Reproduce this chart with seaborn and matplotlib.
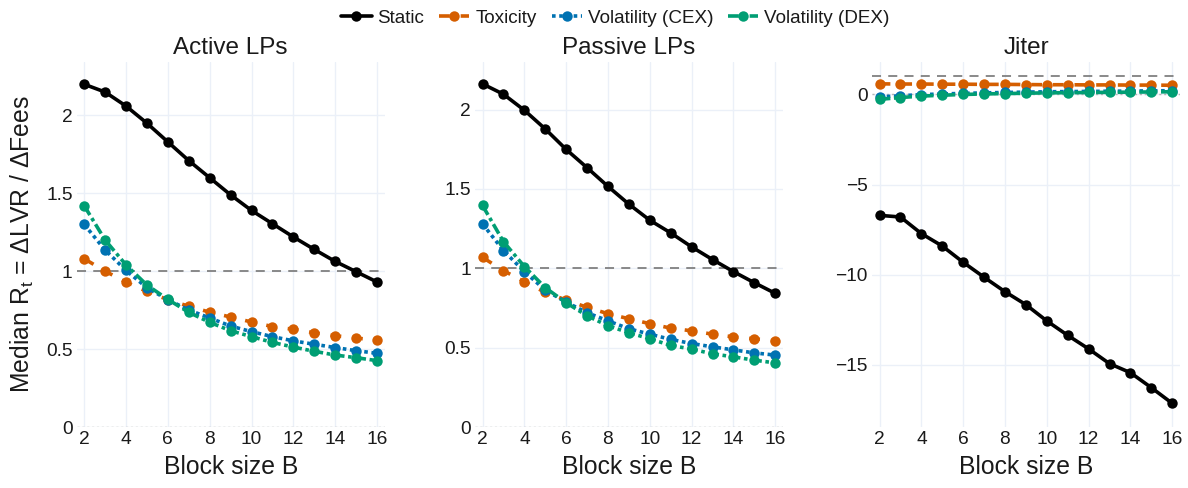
import numpy as np
import pandas as pd
import matplotlib
matplotlib.use("Agg")
import matplotlib.pyplot as plt
from matplotlib.ticker import FuncFormatter
import seaborn as sns

# ---------------- data ----------------
block_sizes = list(range(2, 17))
series_names = ["Static", "Toxicity", "Volatility (CEX)", "Volatility (DEX)"]
panel_titles = ["Active LPs", "Passive LPs", "Jiter"]

active_static = [2.20, 2.15, 2.06, 1.95, 1.83, 1.71, 1.60, 1.49, 1.39, 1.305, 1.22, 1.14, 1.063, 0.997, 0.931]
active_tox = [1.08, 1.00, 0.93, 0.87, 0.817, 0.775, 0.737, 0.706, 0.674, 0.645, 0.627, 0.605, 0.586, 0.571, 0.557]
active_cex = [1.30, 1.136, 1.005, 0.894, 0.817, 0.751, 0.70, 0.648, 0.612, 0.580, 0.553, 0.531, 0.510, 0.490, 0.473]
active_dex = [1.42, 1.20, 1.04, 0.911, 0.819, 0.736, 0.672, 0.618, 0.580, 0.543, 0.513, 0.486, 0.462, 0.445, 0.426]

passive_static = [2.162, 2.097, 1.996, 1.878, 1.749, 1.634, 1.516, 1.404, 1.303, 1.223, 1.135, 1.055, 0.979, 0.909, 0.842]
passive_tox = [1.069, 0.985, 0.916, 0.848, 0.800, 0.754, 0.714, 0.682, 0.651, 0.623, 0.606, 0.585, 0.568, 0.556, 0.543]
passive_cex = [1.280, 1.112, 0.979, 0.863, 0.787, 0.720, 0.669, 0.619, 0.585, 0.552, 0.526, 0.505, 0.486, 0.467, 0.453]
passive_dex = [1.396, 1.168, 1.011, 0.878, 0.783, 0.701, 0.638, 0.594, 0.556, 0.514, 0.491, 0.461, 0.442, 0.421, 0.404]

jiter_static = [-6.71, -6.80, -7.72, -8.41, -9.31, -10.14, -10.94, -11.66, -12.56, -13.36, -14.11, -14.93, -15.43, -16.26, -17.13]
jiter_tox = [0.58, 0.57, 0.57, 0.56, 0.56, 0.55, 0.55, 0.54, 0.53, 0.53, 0.52, 0.52, 0.51, 0.51, 0.50]
jiter_cex = [-0.15, -0.08, -0.02, 0.02, 0.05, 0.08, 0.10, 0.12, 0.14, 0.15, 0.16, 0.17, 0.18, 0.19, 0.20]
jiter_dex = [-0.28, -0.18, -0.10, -0.05, -0.01, 0.02, 0.04, 0.06, 0.08, 0.09, 0.10, 0.11, 0.12, 0.13, 0.14]

panel_data = {
    "Active LPs": [active_static, active_tox, active_cex, active_dex],
    "Passive LPs": [passive_static, passive_tox, passive_cex, passive_dex],
    "Jiter": [jiter_static, jiter_tox, jiter_cex, jiter_dex],
}

rows = []
for panel, lists in panel_data.items():
    for name, vals in zip(series_names, lists):
        for b, v in zip(block_sizes, vals):
            rows.append({"panel": panel, "series": name, "B": b, "R": v})
df = pd.DataFrame(rows)

# ---------------- style ----------------
sns.set_theme(style="white")
plt.rcParams["font.family"] = ["Liberation Sans", "DejaVu Sans"]
plt.rcParams["mathtext.fontset"] = "custom"
plt.rcParams["mathtext.rm"] = "Liberation Sans"
plt.rcParams["mathtext.it"] = "Liberation Sans:italic"
plt.rcParams["axes.unicode_minus"] = True

palette = {"Static": "#000000", "Toxicity": "#D55E00",
           "Volatility (CEX)": "#0072B2", "Volatility (DEX)": "#009E73"}
dashes = {"Static": "", "Toxicity": (3, 3),
          "Volatility (CEX)": (1, 1), "Volatility (DEX)": (3, 1, 1, 1)}
markers = {k: "o" for k in series_names}

text_color = "#1a1a1a"
grid_color = "#EBF0F8"

fig = plt.figure(figsize=(11.88, 4.88), dpi=100)
lefts = [76.7, 475, 872]
width = 308
bottom, top = 427, 62
H, W = 488, 1188
axes = []
for l in lefts:
    ax = fig.add_axes([l / W, 1 - bottom / H, width / W, (bottom - top) / H])
    axes.append(ax)

ylims = {"Active LPs": (0, 2.343), "Passive LPs": (0, 2.30), "Jiter": (-18.44, 1.79)}
yticks = {"Active LPs": [0, 0.5, 1, 1.5, 2], "Passive LPs": [0, 0.5, 1, 1.5, 2],
          "Jiter": [-15, -10, -5, 0]}

fmt = FuncFormatter(lambda v, p: ("%g" % v).replace("-", "\u2212"))

for ax, panel in zip(axes, panel_titles):
    sub = df[df["panel"] == panel]
    ax.axhline(0, color="#b5b5b5", lw=1.0, ls=(0, (1.5, 2)), zorder=1)
    ax.axhline(1, color="#808080", lw=1.3, ls=(0, (5, 4)), zorder=1)
    sns.lineplot(data=sub, x="B", y="R", hue="series", style="series",
                 hue_order=series_names, style_order=series_names,
                 palette=palette, dashes=dashes, markers=markers,
                 linewidth=2.6, markersize=7.5, markeredgewidth=0,
                 ax=ax, legend=(panel == "Active LPs"), zorder=3)
    ax.set_xlim(1.64, 16.37)
    ax.set_ylim(*ylims[panel])
    ax.set_xticks(range(2, 17, 2))
    ax.set_yticks(yticks[panel])
    ax.yaxis.set_major_formatter(fmt)
    ax.grid(True, color=grid_color, lw=1.0, zorder=0)
    ax.set_axisbelow(True)
    for s in ax.spines.values():
        s.set_visible(False)
    ax.tick_params(axis="both", length=0, labelsize=13.8, colors=text_color, pad=3)
    ax.set_title(panel, fontsize=17.5, color=text_color, pad=6)
    ax.set_xlabel("Block size B", fontsize=17.8, color=text_color, labelpad=5)
    ax.set_ylabel("")

axes[0].set_ylabel("Median R$_{\\mathrm{t}}$ = \u0394LVR / \u0394Fees", fontsize=17.8,
                   color=text_color, labelpad=7)

handles, labels = axes[0].get_legend_handles_labels()
axes[0].get_legend().remove()
fig.legend(handles, labels, loc="upper center", bbox_to_anchor=(0.518, 1.015),
           ncol=4, frameon=False, fontsize=13.6, handlelength=1.6,
           handletextpad=0.3, columnspacing=0.8, labelcolor=text_color)

fig.savefig("out.png", dpi=100)
